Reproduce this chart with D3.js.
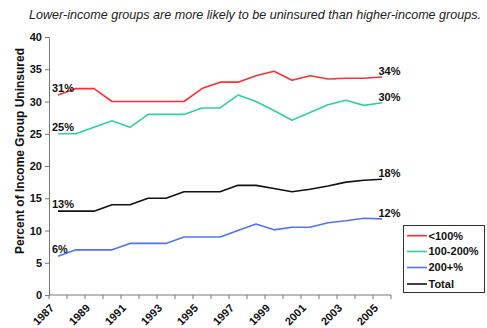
<!DOCTYPE html>
<html>
<head>
<meta charset="utf-8">
<script src="https://cdn.jsdelivr.net/npm/d3@7"></script>
<style>
  html, body { margin: 0; padding: 0; background: #fff; }
  svg { display: block; font-family: "Liberation Sans", Arial, sans-serif; }
</style>
</head>
<body>
<svg id="chart" width="487" height="328"></svg>
<script>
const years = [1987,1988,1989,1990,1991,1992,1993,1994,1995,1996,1997,1998,1999,2000,2001,2002,2003,2004,2005];
const seriesNames = ["<100%", "100-200%", "200+%", "Total"];
const below100 = [31,32,32,30,30,30,30,30,32,33,33,34,34.7,33.3,34.0,33.5,33.6,33.6,33.8];
const from100to200 = [25,25,26,27,26,28,28,28,29,29,31,30,28.6,27.1,28.3,29.5,30.2,29.4,29.8];
const above200 = [6,7,7,7,8,8,8,9,9,9,10,11,10.1,10.5,10.5,11.2,11.5,11.9,11.8];
const total = [13,13,13,14,14,15,15,16,16,16,17,17,16.5,16.0,16.4,16.9,17.5,17.8,17.95];
const startLabels = ["31%", "25%", "6%", "13%"];
const endLabels = ["34%", "30%", "12%", "18%"];
const yTicks = [0,5,10,15,20,25,30,35,40];
const xTickLabels = [1987,1989,1991,1993,1995,1997,1999,2001,2003,2005];
const titleText = "Lower-income groups are more likely to be uninsured than higher-income groups.";
const yTitle = "Percent of Income Group Uninsured";

const colors = ["#ff2f2f", "#2fd29e", "#5073ff", "#111111"];
const allSeries = [below100, from100to200, above200, total];

const svg = d3.select("#chart");
const x = d3.scaleBand().domain(years).range([49, 391]).paddingInner(0).paddingOuter(0);
const cx = d => x(d) + x.bandwidth() / 2;
const y = d3.scaleLinear().domain([0, 40]).range([295, 37]);

// title
svg.append("text")
  .attr("x", 29).attr("y", 19)
  .attr("font-size", 12.4).attr("font-style", "italic")
  .attr("textLength", 452).attr("lengthAdjust", "spacingAndGlyphs")
  .attr("fill", "#222")
  .text(titleText);

// y axis
const yAxis = d3.axisLeft(y).tickValues(yTicks).tickSize(4).tickSizeOuter(0).tickPadding(3);
const gy = svg.append("g").attr("transform", "translate(49,0)").call(yAxis);
gy.select(".domain").attr("stroke", "#777");
gy.selectAll(".tick line").attr("stroke", "#777");
gy.selectAll(".tick text").attr("font-size", 11).attr("font-weight", "bold")
  .attr("font-family", "Liberation Sans, Arial, sans-serif").attr("fill", "#111");

// x axis: ticks at category boundaries
const boundaries = years.map(d => x(d)).concat([x(years[years.length - 1]) + x.bandwidth()]);
const gx = svg.append("g");
gx.append("line").attr("x1", 49).attr("x2", 391).attr("y1", 295).attr("y2", 295).attr("stroke", "#777");
gx.selectAll("line.tk").data(boundaries).join("line").attr("class", "tk")
  .attr("x1", d => d).attr("x2", d => d).attr("y1", 295).attr("y2", 299).attr("stroke", "#777");
gx.selectAll("text").data(xTickLabels).join("text")
  .attr("transform", d => `translate(${cx(d) - 6},${306}) rotate(-45)`)
  .attr("text-anchor", "end").attr("dy", "0.35em")
  .attr("font-size", 11).attr("font-weight", "bold").attr("fill", "#111")
  .text(d => d);

// y title
svg.append("text")
  .attr("transform", "translate(20,151) rotate(-90)")
  .attr("text-anchor", "middle").attr("dy", "0.35em")
  .attr("font-size", 12).attr("font-weight", "bold").attr("fill", "#111")
  .text(yTitle);

// lines
const line = d3.line().x((d, i) => cx(years[i])).y(d => y(d));
allSeries.forEach((s, k) => {
  svg.append("path").datum(s)
    .attr("fill", "none").attr("stroke", colors[k]).attr("stroke-width", 1.6)
    .attr("stroke-linejoin", "round")
    .attr("d", line);
});

// data labels
allSeries.forEach((s, k) => {
  svg.append("text")
    .attr("x", cx(years[0]) - 6).attr("y", y(s[0]) - 3)
    .attr("font-size", 11).attr("font-weight", "bold").attr("fill", "#111")
    .text(startLabels[k]);
  const n = s.length - 1;
  svg.append("text")
    .attr("x", cx(years[n]) - 3.5).attr("y", y(s[n]) - 2)
    .attr("font-size", 11).attr("font-weight", "bold").attr("fill", "#111")
    .text(endLabels[k]);
});

// legend
const lg = svg.append("g");
lg.append("rect").attr("x", 403.5).attr("y", 225.5).attr("width", 81).attr("height", 67)
  .attr("fill", "#fff").attr("stroke", "#333");
const rowY = [235.7, 251.5, 267.5, 284];
seriesNames.forEach((name, k) => {
  lg.append("line").attr("x1", 407).attr("x2", 427).attr("y1", rowY[k]).attr("y2", rowY[k])
    .attr("stroke", colors[k]).attr("stroke-width", 1.6);
  lg.append("text").attr("x", 428.5).attr("y", rowY[k]).attr("dy", "0.35em")
    .attr("font-size", 11).attr("font-weight", "bold").attr("fill", "#111")
    .text(name);
});
</script>
</body>
</html>
